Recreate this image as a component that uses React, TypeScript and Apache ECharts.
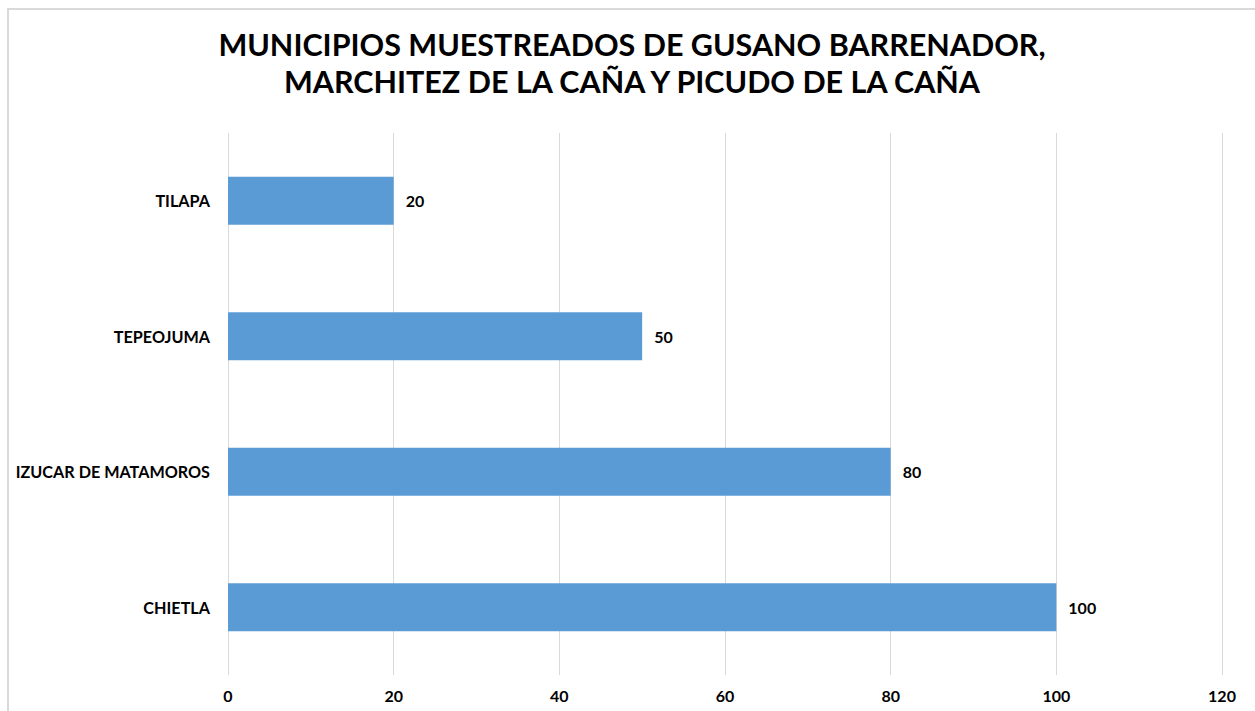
import React, { useEffect, useRef } from "react";
import * as echarts from "echarts";

const categories = ["CHIETLA", "IZUCAR DE MATAMOROS", "TEPEOJUMA", "TILAPA"];
const values = [100, 80, 50, 20];
const titleLines = ["MUNICIPIOS MUESTREADOS DE GUSANO BARRENADOR,", "MARCHITEZ DE LA CAÑA Y PICUDO DE LA CAÑA"];

export default function App() {
  const ref = useRef<HTMLDivElement>(null);
  useEffect(() => {
    document.body.style.overflow = "hidden";
    const chart = echarts.init(ref.current!, undefined, { renderer: "svg" });
    const font = "Lato, 'Open Sans', sans-serif";
    const titleStyle = { fontFamily: font, fontSize: 30.5, lineHeight: 34, fontWeight: "bold", color: "#000" };
    chart.setOption({
      animation: false,
      textStyle: { fontFamily: font },
      title: [
        { text: titleLines[0], left: "center", top: 18.5, padding: 0, textStyle: titleStyle },
        { text: titleLines[1], left: "center", top: 55.5, padding: 0, textStyle: titleStyle },
      ],
      grid: { left: 220, right: 34, top: 125, bottom: 36, containLabel: false },
      xAxis: {
        type: "value",
        min: 0,
        max: 120,
        interval: 20,
        axisLine: { show: false },
        axisTick: { show: false },
        splitLine: { show: true, lineStyle: { color: "#d9d9d9", width: 1 } },
        axisLabel: { margin: 12, fontFamily: font, fontSize: 16, fontWeight: "bold", color: "#000" },
      },
      yAxis: {
        type: "category",
        data: categories,
        axisLine: { show: false },
        axisTick: { show: false },
        axisLabel: { margin: 18, fontFamily: font, fontSize: 16.2, fontWeight: "bold", color: "#000" },
      },
      series: [
        {
          type: "bar",
          data: values,
          barWidth: 48,
          itemStyle: { color: "#5B9BD5" },
          label: {
            show: true,
            position: "right",
            distance: 12,
            fontFamily: font,
            fontSize: 16,
            fontWeight: "bold",
            color: "#000",
          },
        },
      ],
    });
    return () => chart.dispose();
  }, []);
  return (
    <div
      style={{
        position: "absolute",
        left: 7,
        top: 8,
        width: 1260,
        height: 710,
        borderLeft: "2px solid #d9d9d9",
        borderTop: "2px solid #d9d9d9",
        boxSizing: "border-box",
        background: "#fff",
      }}
    >
      <div ref={ref} style={{ position: "absolute", left: -1, top: -2, width: 1248, height: 703 }} />
    </div>
  );
}
